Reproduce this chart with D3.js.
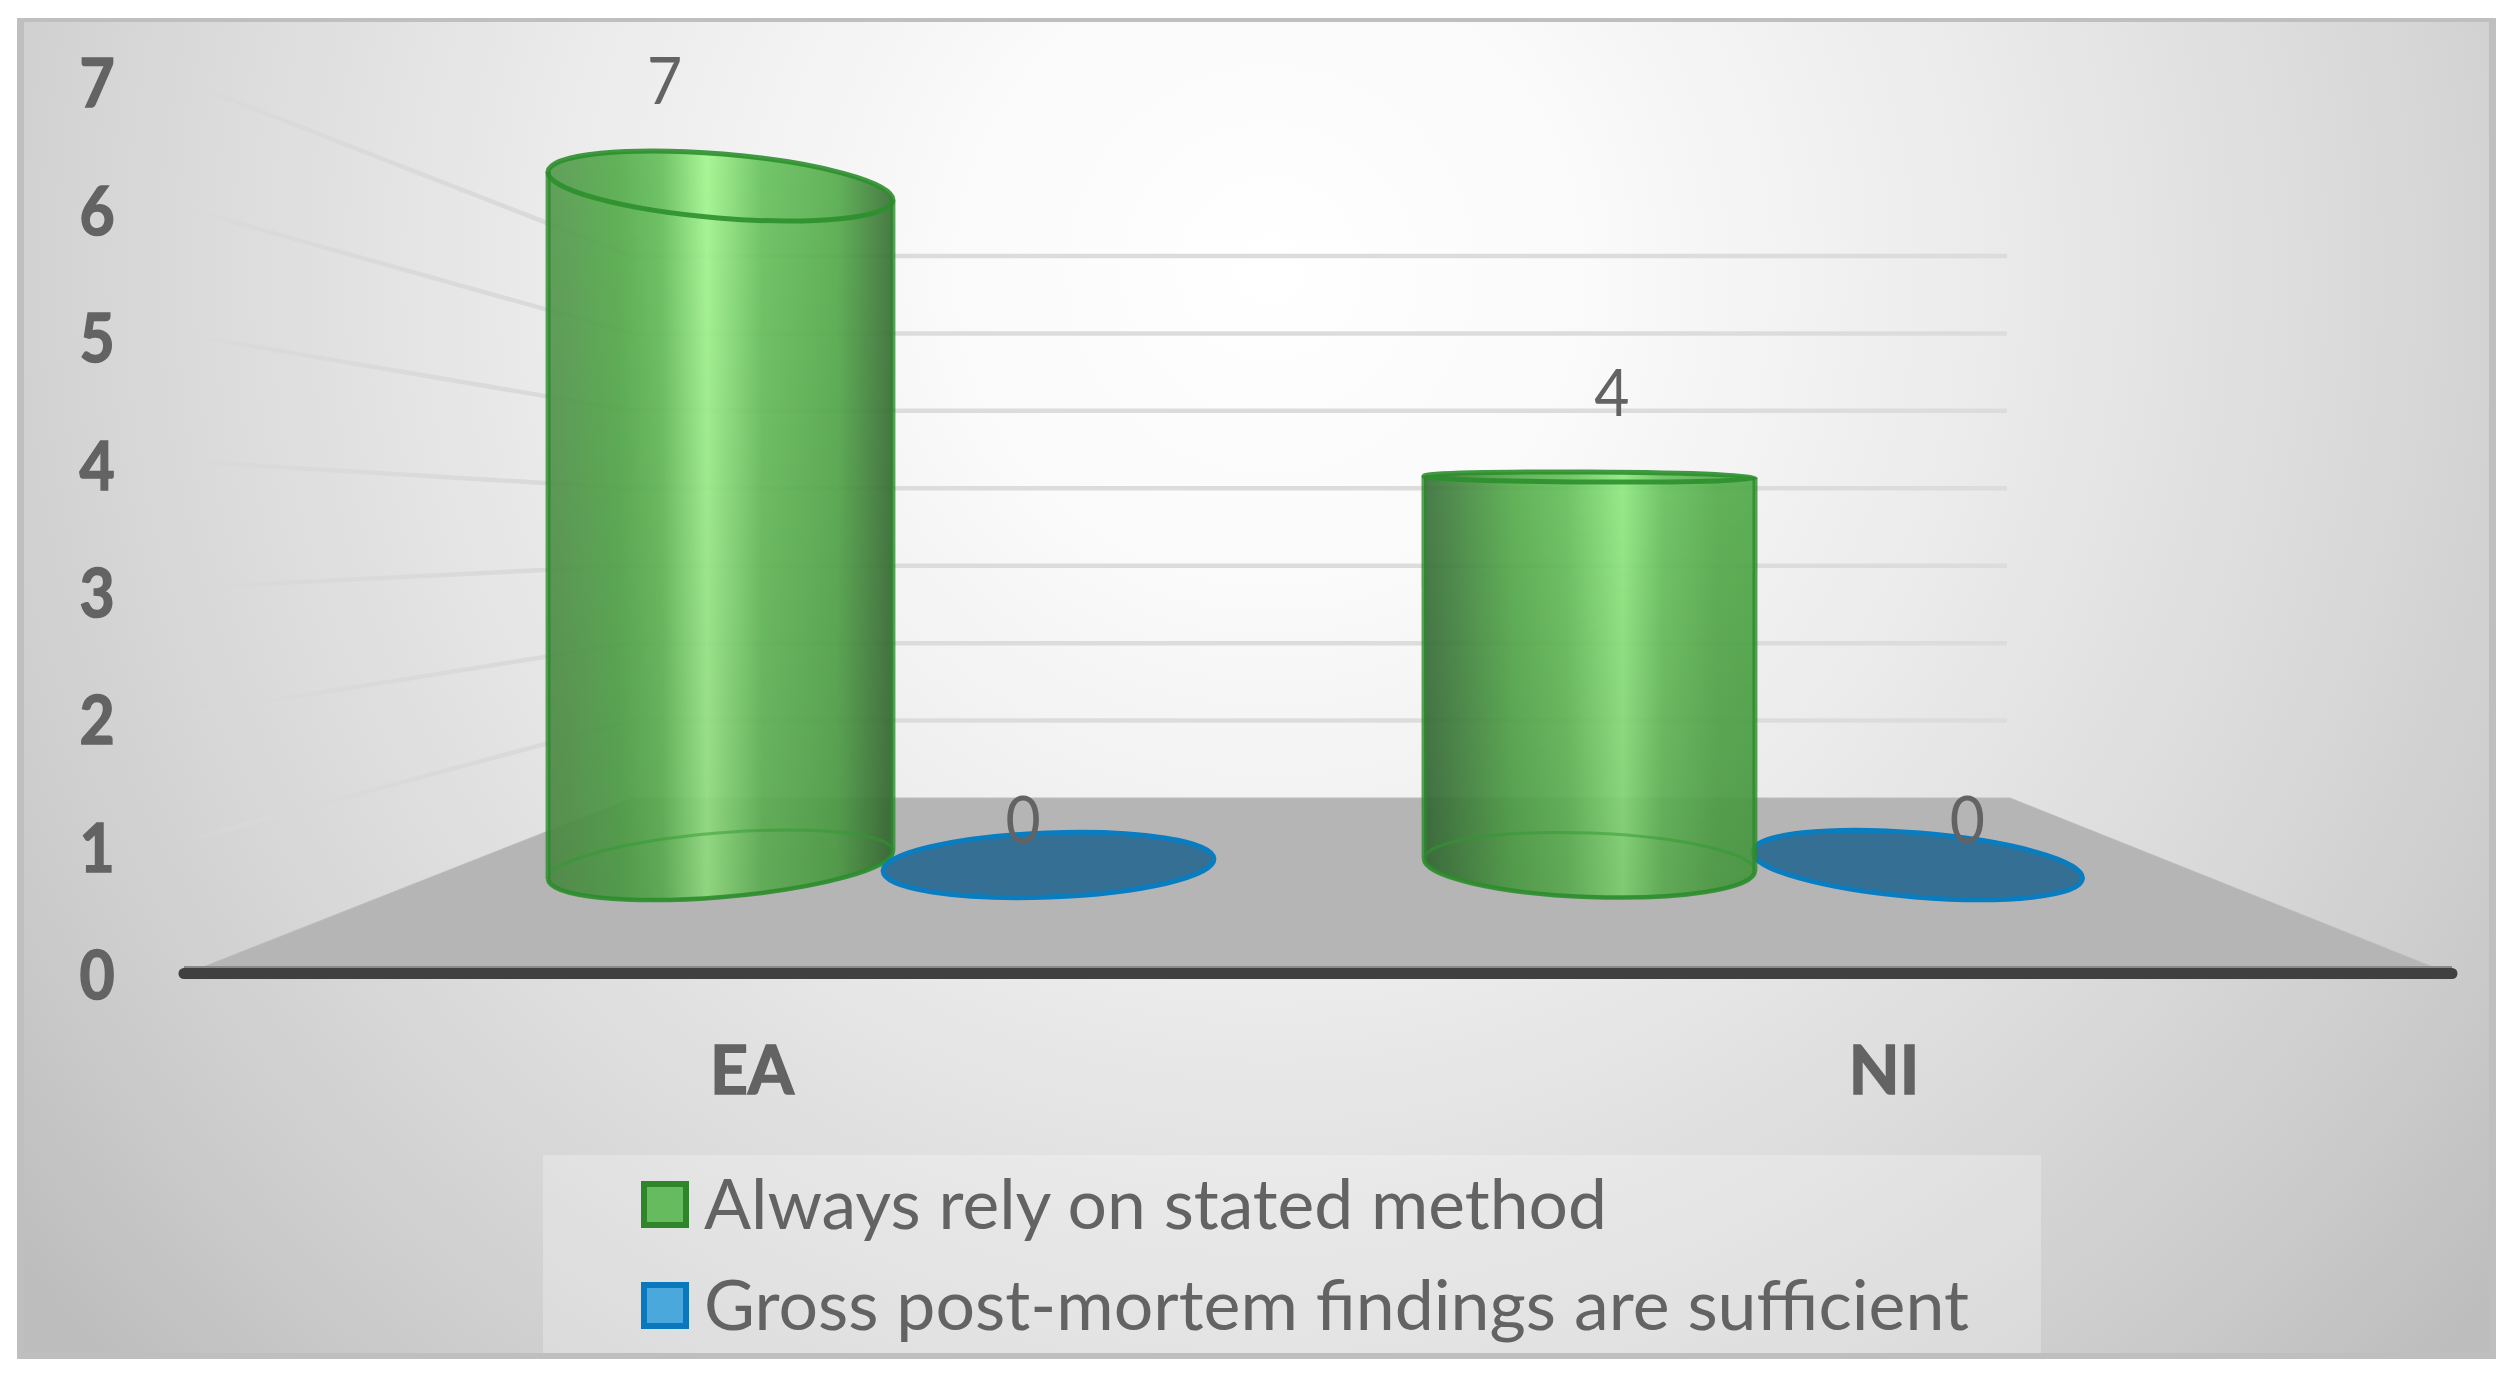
<!DOCTYPE html>
<html><head><meta charset="utf-8">
<script src="https://cdn.jsdelivr.net/npm/d3@7"></script>
<style>html,body{margin:0;padding:0;background:#fff;overflow:hidden}svg{display:block}
text{font-family:Lato,"Open Sans",sans-serif;fill:#636363}</style></head>
<body><script>
const categories = ["EA", "NI"];
const seriesNames = ["Always rely on stated method", "Gross post-mortem findings are sufficient"];
const alwaysRely = [7, 4];
const grossFindings = [0, 0];
const valueTicks = [0, 1, 2, 3, 4, 5, 6, 7];

const W = 2510, H = 1375;
const svg = d3.select("body").append("svg").attr("width", W).attr("height", H);
const defs = svg.append("defs");

// frame + background
const bg = defs.append("radialGradient").attr("id", "bg").attr("gradientUnits", "userSpaceOnUse")
  .attr("cx", 1270).attr("cy", 270).attr("r", 1600);
[[0, "#ffffff"], [.2, "#fafafa"], [.45, "#ebebeb"], [.68, "#dadada"], [.85, "#cccccc"], [1, "#bdbdbd"]]
  .forEach(s => bg.append("stop").attr("offset", s[0]).attr("stop-color", s[1]));
svg.append("rect").attr("x", 17).attr("y", 18).attr("width", 2479).attr("height", 1341).attr("fill", "#bfbfbf");
svg.append("rect").attr("x", 24).attr("y", 22).attr("width", 2465).attr("height", 1331).attr("fill", "url(#bg)");

// projected scales: back wall, front edge, cylinder heights
const yBack = d3.scaleLinear().domain([0, 7]).range([798, 256]);
const yFront = d3.scaleLinear().domain([0, 7]).range([967, 82]);
const yTick = d3.scaleLinear().domain([0, 7]).range([975, 83]);
const yBar = d3.scaleLinear().domain([0, 7]).range([865, 186]);
const yLabel = d3.scaleLinear().domain([0, 4, 7]).range([819, 392, 80]);
const xGroup = d3.scalePoint().domain(categories).range([884.5, 1753.5]);
const xCatLabel = d3.scalePoint().domain(categories).range([752, 1884]);
const xInner = d3.scalePoint().domain([0, 1]).range([-164, 164]);
const tilt = d3.scaleLinear().domain([0, 4, 7]).range([1, .15, -1]);
const halfWidth = d3.scaleLinear().domain([721, 1048]).range([173, 165.5]).clamp(true);
const backL = 632, backR = 2010, frontL = 185, frontR = 2433, wallR = 2007;

// gridlines on left wall and back wall
const fade = defs.append("linearGradient").attr("id", "fade").attr("gradientUnits", "userSpaceOnUse")
  .attr("x1", frontL).attr("x2", backL).attr("y1", 0).attr("y2", 0);
fade.append("stop").attr("offset", 0).attr("stop-color", "#d9d9d9").attr("stop-opacity", 0);
fade.append("stop").attr("offset", .12).attr("stop-color", "#d9d9d9").attr("stop-opacity", .8);
fade.append("stop").attr("offset", 1).attr("stop-color", "#d9d9d9").attr("stop-opacity", 1);
const grid = svg.append("g").attr("fill", "none").attr("stroke-width", 4.5);
grid.selectAll(".w").data(valueTicks.slice(1)).join("path")
  .attr("stroke", "url(#fade)")
  .attr("d", v => `M${frontL},${yFront(v)}L${backL},${yBack(v)}`);
grid.selectAll(".b").data(valueTicks.slice(1)).join("line")
  .attr("stroke", "#dcdcdc")
  .attr("x1", backL).attr("x2", wallR).attr("y1", yBack).attr("y2", yBack);

// floor
svg.append("path").attr("fill", "#b5b5b5").attr("stroke", "#bcbcbc").attr("stroke-width", 1)
  .attr("d", d3.line()([[backL, yBack(0)], [backR, yBack(0)], [frontR, yFront(0)], [203, yFront(0)]]) + "Z");
svg.append("line").attr("x1", 184).attr("x2", 2452).attr("y1", 973.5).attr("y2", 973.5)
  .attr("stroke", "#404040").attr("stroke-width", 11).attr("stroke-linecap", "round");
svg.append("line").attr("x1", 184).attr("x2", 2452).attr("y1", 967).attr("y2", 967)
  .attr("stroke", "#8a8a8a").attr("stroke-width", 2);

// cylinders
const RY = 32, vanish = 1320, tiltRate = .0079;
function tips(e) {
  const r = e.deg * Math.PI / 180, dx = e.a * Math.cos(r), dy = e.a * Math.sin(r);
  return [[e.cx - dx, e.cy - dy], [e.cx + dx, e.cy + dy]];
}
function ell(cx, v) {
  return {cx, cy: yBar(v), a: halfWidth(cx), ry: Math.max(RY * Math.abs(tilt(v)), 5), deg: tilt(v) * (cx - vanish) * tiltRate};
}
function fullEll(e) {
  const [l, r] = tips(e);
  return `M${l}A${e.a},${e.ry},${e.deg},1,0,${r}A${e.a},${e.ry},${e.deg},1,0,${l}Z`;
}
function lowerArc(e) {
  const [l, r] = tips(e);
  return `M${l}A${e.a},${e.ry},${e.deg},0,0,${r}`;
}
const peakAt = d3.scaleLinear().domain([721, 1587]).range([.46, .6]);
const peakTone = d3.scaleLinear().domain([721, 1587]).range(["#a2f68e", "#8fe97f"]);
const leftTone = d3.scaleLinear().domain([721, 1587]).range(["#56994e", "#3a713a"]);
const rightTone = d3.scaleLinear().domain([721, 1587]).range(["#3a7036", "#50aa48"]);
function cylinderGradient(id, cx) {
  const g = defs.append("linearGradient").attr("id", id);
  const p = peakAt(cx);
  [[0, leftTone(cx)], [p * .45, "#56ad4d"], [p * .72, "#66c05b"], [p, peakTone(cx)],
   [p + (1 - p) * .3, "#68c25d"], [p + (1 - p) * .7, "#56ad4d"], [1, rightTone(cx)]]
    .forEach(s => g.append("stop").attr("offset", s[0]).attr("stop-color", s[1]));
}
const shade = defs.append("linearGradient").attr("id", "shade").attr("x1", 0).attr("x2", 0).attr("y1", 0).attr("y2", 1);
shade.append("stop").attr("offset", 0).attr("stop-color", "#000").attr("stop-opacity", 0);
shade.append("stop").attr("offset", 1).attr("stop-color", "#000").attr("stop-opacity", .12);

function drawGreen(cat, v) {
  const cx = xGroup(cat) + xInner(0), id = "g" + cat;
  cylinderGradient(id, cx);
  const t = ell(cx, v), b = ell(cx, 0);
  const [tl, tr] = tips(t), [bl, br] = tips(b);
  const body = `M${tl}L${bl}A${b.a},${b.ry},${b.deg},0,0,${br}L${tr}A${t.a},${t.ry},${t.deg},0,0,${tl}Z`;
  const g = svg.append("g");
  g.append("path").attr("d", body).attr("fill", `url(#${id})`).attr("fill-opacity", .92);
  g.append("path").attr("d", body).attr("fill", "url(#shade)");
  g.append("path").attr("d", fullEll(b)).attr("fill", "none").attr("stroke", "#2f9a2f").attr("stroke-width", 3).attr("stroke-opacity", .5);
  g.append("path").attr("d", fullEll(t)).attr("fill", "none").attr("stroke", "#2c8f2c").attr("stroke-width", 5).attr("stroke-opacity", .9);
  g.append("path").attr("d", `M${tl}L${bl}`).attr("stroke", "#2c8a2c").attr("stroke-width", 5).attr("stroke-opacity", .8);
  g.append("path").attr("d", `M${tr}L${br}`).attr("stroke", "#2c8a2c").attr("stroke-width", 5).attr("stroke-opacity", .8);
  g.append("path").attr("d", lowerArc(b)).attr("fill", "none").attr("stroke", "#2c8c2c").attr("stroke-width", 4.5).attr("stroke-opacity", .85);
}
function drawBlue(cat, v) {
  const cx = xGroup(cat) + xInner(1);
  svg.append("path").attr("d", fullEll(ell(cx, v))).attr("fill", "#356f93").attr("stroke", "#0a7cc0").attr("stroke-width", 5);
}
drawGreen(categories[0], alwaysRely[0]);
drawBlue(categories[0], grossFindings[0]);
drawBlue(categories[1], grossFindings[1]);
drawGreen(categories[1], alwaysRely[1]);

// value axis
const axis = svg.append("g").attr("transform", "translate(97,0)")
  .call(d3.axisLeft(yTick).tickValues(valueTicks).tickFormat(d3.format("d")).tickSize(0));
axis.select(".domain").remove();
axis.selectAll("text").attr("x", 0).attr("dy", ".36em")
  .attr("text-anchor", "middle").attr("font-size", 66).attr("font-weight", 700)
  .attr("transform", "scale(.92,1)").style("font-family", "Lato").style("fill", "#636363")
  .style("stroke", "#636363").style("stroke-width", 1.5);

// category labels
svg.selectAll(".cat").data(categories).join("text").attr("class", "cat")
  .attr("x", xCatLabel).attr("y", 1094).attr("text-anchor", "middle")
  .attr("font-size", 66).attr("font-weight", 700)
  .style("stroke", "#636363").style("stroke-width", 1.5).text(d => d);

// data labels
const labels = [];
categories.forEach((c, i) => {
  labels.push({x: xGroup(c) + xInner(0), v: alwaysRely[i]});
  labels.push({x: xGroup(c) + xInner(1), v: grossFindings[i]});
});
const labelShift = d3.scaleLinear().domain([720, vanish, 1920]).range([-56, 0, 50]);
svg.selectAll(".dl").data(labels).join("text").attr("class", "dl")
  .attr("text-anchor", "middle").attr("font-size", 66)
  .attr("transform", d => `translate(${d.x + labelShift(d.x)},${yLabel(d.v) + 24}) scale(.92,1)`)
  .text(d => d.v);

// legend
svg.append("rect").attr("x", 543).attr("y", 1155).attr("width", 1498).attr("height", 198)
  .attr("fill", "#fff").attr("fill-opacity", .25);
const yLegend = d3.scalePoint().domain(seriesNames).range([1229, 1330]);
const legendFill = d3.scaleOrdinal().domain(seriesNames).range(["#66bb5e", "#4aa8dc"]);
const legendStroke = d3.scaleOrdinal().domain(seriesNames).range(["#2e852a", "#0a78bc"]);
const legendWidth = d3.scaleOrdinal().domain(seriesNames).range([903, 1265]);
const leg = svg.selectAll(".leg").data(seriesNames).join("g").attr("class", "leg");
leg.append("rect").attr("x", 644).attr("y", d => yLegend(d) - 45).attr("width", 42).attr("height", 41)
  .attr("fill", legendFill).attr("stroke", legendStroke).attr("stroke-width", 6);
leg.append("text").attr("x", 704).attr("y", yLegend).attr("font-size", 70)
  .attr("textLength", legendWidth).attr("lengthAdjust", "spacingAndGlyphs").text(d => d);
</script></body></html>
